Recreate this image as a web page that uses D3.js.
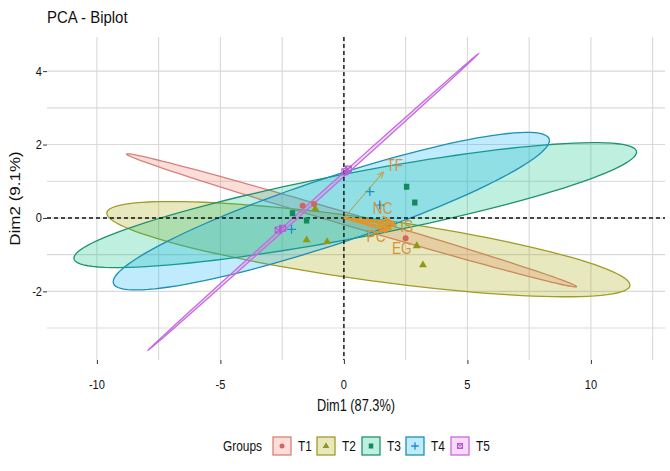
<!DOCTYPE html>
<meta charset="utf-8">
<script src="https://d3js.org/d3.v7.min.js"></script>
<style>
  body { margin: 0; background: #fff; }
  text { font-family: "Liberation Sans", Arial, sans-serif; }
</style>
<div id="my_dataviz"></div>
<script>

// groups and colours
var groups = ["T1", "T2", "T3", "T4", "T5"];
var groupColors = ["#F8766D", "#A3A500", "#00BF7D", "#00B0F6", "#E76BF3"];
var groupStroke = ["#d6827a", "#a09c26", "#1f9272", "#1e8fb4", "#c56bdf"];
var groupPoint  = ["#d0665e", "#8c9a14", "#138a5c", "#1a8fc6", "#b25ad2"];

// individuals (Dim1, Dim2) and their group
var pointGroup = ["T1","T1","T1",
                  "T2","T2","T2","T2","T2",
                  "T3","T3","T3","T3",
                  "T4","T4","T4",
                  "T5","T5","T5","T5"];
var pointDim1 = [-1.67, -1.21, 2.50,
                 -1.16, -1.51, -0.68, 2.95, 3.20,
                 -2.08, -1.51, 2.54, 2.87,
                 -2.12, 1.05, 1.45,
                 -2.66, -2.48, 0.04, 0.18];
var pointDim2 = [0.33, 0.38, -0.55,
                 0.25, -0.60, -0.65, -0.76, -1.28,
                 0.13, -0.07, 0.85, 0.42,
                 -0.31, 0.72, 0.35,
                 -0.33, -0.28, 1.26, 1.33];

// confidence ellipses: centre, half major axis, vertical half thickness
var ellCx   = [0.31, 0.99, 0.46, -0.51, -1.24];
var ellCy   = [-0.065, -0.85, 0.35, 0.185, 0.435];
var ellMajX = [9.11, 10.59, 11.39, 8.83, 6.68];
var ellMajY = [-1.805, -0.98, 1.445, 1.925, 4.035];
var ellHalf = [0.175, 0.85, 0.9, 0.95, 0.06];

// variables (arrows)
var varNames  = ["TF", "NC", "PC", "IS", "EG"];
var varDim1   = [1.60, 2.00, 1.75, 2.10, 1.90];
var varDim2   = [1.25, -0.12, -0.35, -0.20, -0.30];
var varLabelX = [2.06, 1.57, 1.30, 2.54, 2.34];
var varLabelY = [1.44, 0.25, -0.51, -0.24, -0.83];

// axes
var xTicks = [-10, -5, 0, 5, 10];
var xMinor = [-7.5, -2.5, 2.5, 7.5, 12.5];
var yTicks = [-2, 0, 2, 4];
var yMinor = [-3, -1, 1, 3];

var W = 670, H = 471;
var panel = {left: 47, right: 665, top: 37, bottom: 360};

var svg = d3.select("#my_dataviz")
            .append("svg")
            .attr("width", W)
            .attr("height", H);

var x = d3.scaleLinear().domain([-12.02, 13.0]).range([panel.left, panel.right]);
var y = d3.scaleLinear().domain([-3.87, 4.93]).range([panel.bottom, panel.top]);

// text helper: the reference text is a bit condensed
function label(parent, px, py, str, size, anchor, sx) {
  return parent.append("text")
    .attr("transform", "translate(" + px + "," + py + ") scale(" + sx + ",1)")
    .attr("text-anchor", anchor)
    .style("font-size", size + "px")
    .attr("fill", "#111")
    .text(str);
}

// grid
var grid = svg.append("g");
grid.selectAll("line.vx")
    .data(xTicks.concat(xMinor))
    .enter().append("line")
    .attr("x1", function(d) { return x(d); })
    .attr("x2", function(d) { return x(d); })
    .attr("y1", panel.top).attr("y2", panel.bottom)
    .attr("stroke", "#d9d9d9").attr("stroke-width", 1.1);
grid.selectAll("line.hy")
    .data(yTicks.concat(yMinor))
    .enter().append("line")
    .attr("y1", function(d) { return y(d); })
    .attr("y2", function(d) { return y(d); })
    .attr("x1", panel.left).attr("x2", panel.right)
    .attr("stroke", "#d9d9d9").attr("stroke-width", 1.1);

// axes (tick marks from d3, labels drawn below)
svg.append("g")
    .attr("transform", "translate(0," + panel.bottom + ")")
    .call(d3.axisBottom(x).tickValues(xTicks).tickSize(4).tickFormat(""));
svg.append("g")
    .attr("transform", "translate(" + panel.left + ",0)")
    .call(d3.axisLeft(y).tickValues(yTicks).tickSize(4).tickFormat(""));
svg.selectAll(".domain").remove();
svg.selectAll(".tick line").attr("stroke", "#333").attr("stroke-width", 1);

xTicks.forEach(function(t) { label(svg, x(t), 389, String(t), 13, "middle", 0.85); });
yTicks.forEach(function(t) { label(svg, 42, y(t) + 4.5, String(t), 13, "end", 0.85); });

// ellipses
var ellLine = d3.line().x(function(d) { return x(d[0]); }).y(function(d) { return y(d[1]); });
var ellipses = svg.append("g");
groups.forEach(function(g, i) {
  var pts = d3.range(0, 361, 3).map(function(a) {
    var t = a * Math.PI / 180;
    return [ellCx[i] + Math.cos(t) * ellMajX[i],
            ellCy[i] + Math.cos(t) * ellMajY[i] + Math.sin(t) * ellHalf[i]];
  });
  ellipses.append("path")
    .attr("d", ellLine(pts) + "Z")
    .attr("fill", groupColors[i])
    .attr("fill-opacity", 0.25)
    .attr("stroke", groupStroke[i])
    .attr("stroke-width", 1.3);
});

// reference lines
svg.append("line")
    .attr("x1", x(0)).attr("x2", x(0)).attr("y1", panel.top).attr("y2", panel.bottom)
    .attr("stroke", "#111").attr("stroke-width", 1.4).attr("stroke-dasharray", "4,3");
svg.append("line")
    .attr("y1", y(0)).attr("y2", y(0)).attr("x1", panel.left).attr("x2", panel.right)
    .attr("stroke", "#111").attr("stroke-width", 1.4).attr("stroke-dasharray", "4,3");

// point shapes
function drawShape(sel, gi, s, col) {
  if (gi === 0) {
    sel.append("circle").attr("r", s * 0.5).attr("fill", col);
  } else if (gi === 1) {
    sel.append("path").attr("d", d3.symbol().type(d3.symbolTriangle).size(s * s * 0.75)).attr("fill", col);
  } else if (gi === 2) {
    sel.append("rect").attr("x", -s * 0.45).attr("y", -s * 0.5).attr("width", s * 0.9).attr("height", s)
       .attr("fill", col);
  } else if (gi === 3) {
    sel.append("path").attr("d", "M" + (-s * 0.75) + ",0H" + (s * 0.75) + "M0," + (-s * 0.75) + "V" + (s * 0.75))
       .attr("stroke", col).attr("stroke-width", 1.3);
  } else {
    var h = s * 0.5;
    sel.append("path")
       .attr("d", "M" + (-h) + "," + (-h) + "H" + h + "V" + h + "H" + (-h) + "Z" +
                  "M" + (-h) + "," + (-h) + "L" + h + "," + h + "M" + h + "," + (-h) + "L" + (-h) + "," + h)
       .attr("fill", "none").attr("stroke", col).attr("stroke-width", 1.1);
  }
}

var pointsG = svg.append("g");
pointGroup.forEach(function(g, k) {
  var gi = groups.indexOf(g);
  var p = pointsG.append("g")
      .attr("transform", "translate(" + x(pointDim1[k]) + "," + y(pointDim2[k]) + ")");
  drawShape(p, gi, 6, groupPoint[gi]);
});

// arrows
var arrowCol = "#E0962A";
svg.append("defs").append("marker")
    .attr("id", "head").attr("viewBox", "0 0 10 10")
    .attr("refX", 9).attr("refY", 5)
    .attr("markerWidth", 7).attr("markerHeight", 7)
    .attr("orient", "auto")
  .append("path").attr("d", "M0,1L9,5L0,9").attr("fill", "none")
    .attr("stroke", arrowCol).attr("stroke-width", 1.4);

var arrows = svg.append("g");
varNames.forEach(function(v, i) {
  arrows.append("line")
    .attr("x1", x(0)).attr("y1", y(0))
    .attr("x2", x(varDim1[i])).attr("y2", y(varDim2[i]))
    .attr("stroke", i === 0 ? "#b49a3a" : arrowCol)
    .attr("stroke-width", i === 0 ? 1 : 1.8)
    .attr("marker-end", "url(#head)");
  label(arrows, x(varLabelX[i]), y(varLabelY[i]) + 5.5, v, 16, "middle", 0.85)
    .attr("fill", "#d8913a");
});

// titles
label(svg, 47, 22.5, "PCA - Biplot", 17, "start", 0.88);
label(svg, (panel.left + panel.right) / 2, 411, "Dim1 (87.3%)", 16, "middle", 0.8);
svg.append("text")
   .attr("transform", "translate(20," + ((panel.top + panel.bottom) / 2) + ") rotate(-90) scale(1,0.85)")
   .attr("text-anchor", "middle").style("font-size", "17px").attr("fill", "#111").text("Dim2 (9.1%)");

// legend
var legY = 446;
var leg = svg.append("g");
label(leg, 223, legY + 4.5, "Groups", 14, "start", 0.85);
var keyX = [273, 317, 362, 406, 451];
groups.forEach(function(g, i) {
  var k = leg.append("g").attr("transform", "translate(" + keyX[i] + "," + (legY - 9) + ")");
  k.append("rect").attr("width", 18).attr("height", 18)
   .attr("fill", groupColors[i]).attr("fill-opacity", 0.25)
   .attr("stroke", groupStroke[i]).attr("stroke-width", 1.3);
  var c = k.append("g").attr("transform", "translate(9,9)");
  drawShape(c, i, 5, groupPoint[i]);
  label(leg, keyX[i] + 25, legY + 4.5, g, 14, "start", 0.85);
});

</script>
